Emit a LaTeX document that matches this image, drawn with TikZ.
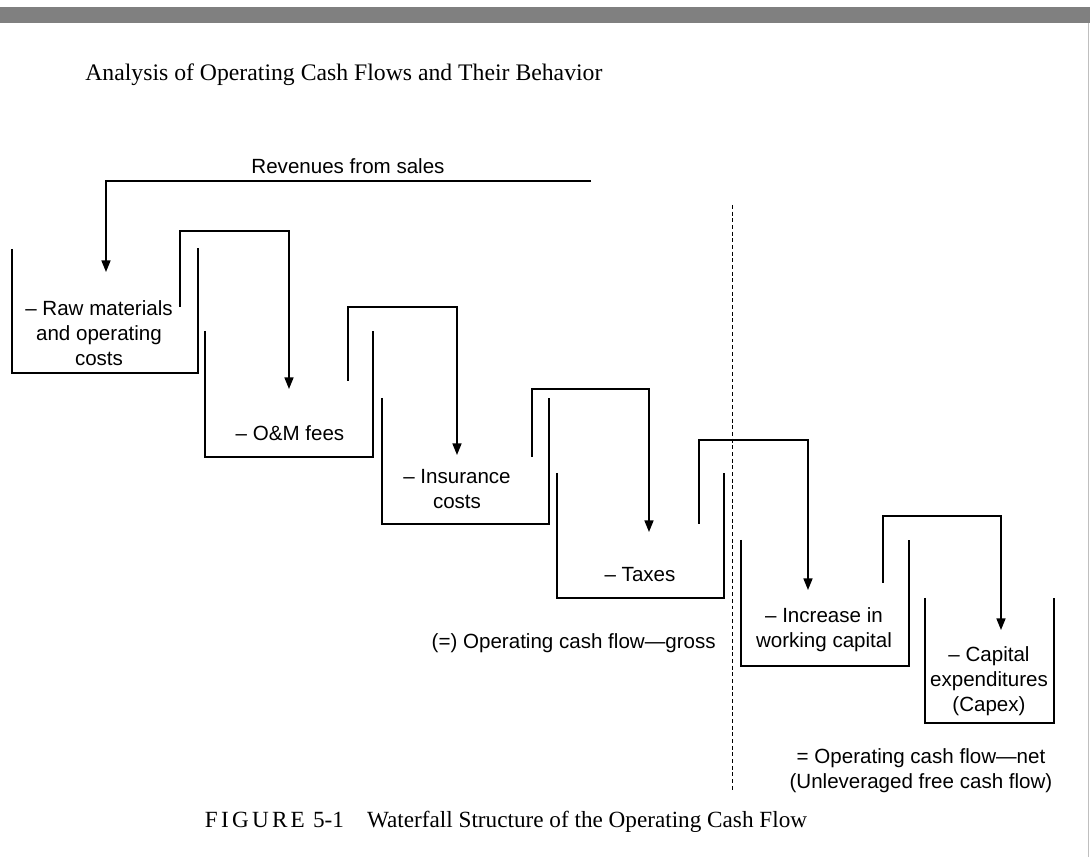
\documentclass[tikz,border=0pt]{standalone}
\usepackage{fontspec}
\setmainfont{Liberation Sans}
\newfontfamily\bookfont{Liberation Serif}
\newfontfamily\capfont[LetterSpace=14]{Liberation Serif}
\usepackage{tikz}
\usetikzlibrary{arrows.meta,positioning}
\tikzstyle{textonly} = [draw=none, fill=none, inner sep=0pt, align=center, font=\fontsize{11.7}{14.2}\selectfont]
\tikzstyle{basin} = [draw, line width=0.8pt]
\tikzstyle{tedge} = [draw, line width=0.8pt, -{Triangle[length=0.23cm,width=0.18cm]}]
\tikzstyle{divider} = [draw, line width=0.75pt, dash pattern=on 2.2pt off 1.6pt]

\begin{document}
\begin{tikzpicture}[x=0.02cm, y=-0.02cm]
\useasboundingbox (0,0) rectangle (1090,857);

% page head
\fill[black!50] (0,7) rectangle (1090,23);
\draw[black!25, line width=0.6pt] (1088.5,23) -- (1088.5,857);
\node[anchor=west, inner sep=0pt, font=\bookfont\fontsize{13.5}{16}\selectfont] (title) at (85,75) {Analysis of Operating Cash Flows and Their Behavior};

% basins
\draw[basin] (12,249) |- (198,373) -- (198,248);
\draw[basin] (205,331) |- (373,457) -- (373,331);
\draw[basin] (382,398) |- (549,524) -- (549,398);
\draw[basin] (557,473) |- (724,598) -- (724,473);
\draw[basin] (741,540) |- (909,666) -- (909,540);
\draw[basin] (925,598) |- (1054,723) -- (1054,598);

\node[textonly] (raw) at (99,333) {-- Raw materials\\and operating\\costs};
\node[textonly] (om) at (290,433) {-- O\&M fees};
\node[textonly] (insur) at (457,489) {-- Insurance\\costs};
\node[textonly] (taxes) at (640,575) {-- Taxes};
\node[textonly] (wcap) at (824,630) {-- Increase in\\working capital};
\node[textonly] (capex) at (989,681) {-- Capital\\expenditures\\(Capex)};

\node[textonly] (rev) at (348,166) {Revenues from sales};
\node[textonly, anchor=east] (gross) at (716,643) {(=) Operating cash flow---gross};
\node[textonly] (net) at (921,771) {= Operating cash flow---net\\(Unleveraged free cash flow)};

% flows
\coordinate (revs) at (591,181);
\coordinate (c2s) at (180,307);
\coordinate (c3s) at (348,381);
\coordinate (c4s) at (532,457);
\coordinate (c5s) at (699,524);
\coordinate (c6s) at (883,583);

\path[tedge] (revs) -| (106,272);
\path[tedge] (c2s) -- (180,231) -| (289,389);
\path[tedge] (c3s) -- (348,307) -| (457,455);
\path[tedge] (c4s) -- (532,389) -| (649,532);
\path[tedge] (c5s) -- (699,440) -| (808,590);
\path[tedge] (c6s) -- (883,516) -| (1001,630);

% gross / net split
\coordinate (divtop) at (732.5,205);
\coordinate (divbot) at (732.5,792);
\path[divider] (divtop) -- (divbot);

\node[anchor=center, inner sep=0pt, font=\bookfont\fontsize{13.2}{16}\selectfont] (caption) at (506,822) {{\capfont FIGURE}\hspace{0.35em}5-1\hspace{1em}Waterfall Structure of the Operating Cash Flow};

\end{tikzpicture}
\end{document}
